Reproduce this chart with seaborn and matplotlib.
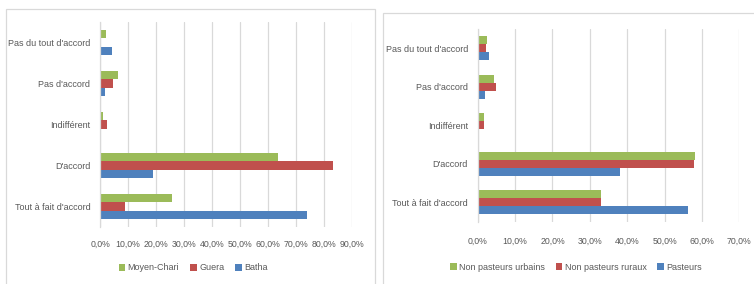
import matplotlib
matplotlib.use("Agg")
import matplotlib.pyplot as plt
import seaborn as sns
import pandas as pd
from matplotlib.patches import Patch, Rectangle
from matplotlib.ticker import FuncFormatter

categories = ["Pas du tout d'accord", "Pas d'accord", "Indifférent", "D'accord", "Tout à fait d'accord"]

left_series = ["Moyen-Chari", "Guera", "Batha"]
moyen_chari = [0.021, 0.064, 0.012, 0.635, 0.257]
guera = [0.0, 0.048, 0.025, 0.831, 0.088]
batha = [0.043, 0.017, 0.004, 0.189, 0.738]

right_series = ["Non pasteurs urbains", "Non pasteurs ruraux", "Pasteurs"]
non_past_urb = [0.024, 0.043, 0.018, 0.582, 0.329]
non_past_rur = [0.022, 0.049, 0.017, 0.579, 0.330]
pasteurs = [0.030, 0.020, 0.003, 0.380, 0.562]

left_ticks = [0.0, 0.1, 0.2, 0.3, 0.4, 0.5, 0.6, 0.7, 0.8, 0.9]
right_ticks = [0.0, 0.1, 0.2, 0.3, 0.4, 0.5, 0.6, 0.7]

colors = ["#9BBB59", "#C0504D", "#4F81BD"]
TXT = "#595959"
GRID = "#D9D9D9"

sns.set_theme(style="white")
plt.rcParams['font.family'] = ['Liberation Sans', 'DejaVu Sans']

W, H = 754, 284
fig = plt.figure(figsize=(W / 100, H / 100), dpi=100)

# frames
fig.patches.append(Rectangle((6 / W, -0.1), (374.5 - 6) / W, 1.1 - 9 / H, transform=fig.transFigure,
                             fill=False, edgecolor=GRID, lw=0.9))
fig.patches.append(Rectangle((383 / W, -0.1), 0.5, 1.1 - 13 / H, transform=fig.transFigure,
                             fill=False, edgecolor=GRID, lw=0.9))


def fmt(v, pos):
    return f"{v * 100:.1f}%".replace(".", ",")


def make(ax_rect, series, values, ticks, xmax, legend_center, legend_y, xpad):
    ax = fig.add_axes(ax_rect)
    rows = []
    for s, vals in zip(series, values):
        for c, v in zip(categories, vals):
            rows.append({"cat": c, "series": s, "val": v})
    df = pd.DataFrame(rows)
    sns.barplot(data=df, y="cat", x="val", hue="series", hue_order=series, order=categories,
                palette=colors, width=0.63, orient="h", ax=ax, legend=False, saturation=1,
                edgecolor="none")
    ax.set_xlim(0, xmax)
    ax.set_xticks(ticks)
    ax.xaxis.set_major_formatter(FuncFormatter(fmt))
    ax.grid(axis="x", color=GRID, lw=0.9)
    ax.set_axisbelow(True)
    for s in ["top", "right", "bottom"]:
        ax.spines[s].set_visible(False)
    ax.spines["left"].set_color(GRID)
    ax.spines["left"].set_linewidth(0.9)
    ax.tick_params(axis="x", length=0, labelsize=6.3, colors=TXT, pad=xpad)
    ax.tick_params(axis="y", length=0, labelsize=6.5, colors=TXT, pad=7)
    ax.set_xlabel("")
    ax.set_ylabel("")
    handles = [Patch(facecolor=c, edgecolor="none", label=s) for c, s in zip(colors, series)]
    fig.legend(handles=handles, loc="center", bbox_to_anchor=(legend_center / W, 1 - legend_y / H),
               ncol=3, frameon=False, fontsize=6.5, handlelength=0.75, handleheight=0.75,
               handletextpad=0.25, columnspacing=1.2, labelcolor=TXT)
    return ax


make([100 / W, 1 - 227 / H, 252 / W, 205 / H], left_series, [moyen_chari, guera, batha],
     left_ticks, 0.9, 193, 268, 9)
make([477.7 / W, 1 - 221.5 / H, 261.6 / W, 192.5 / H], right_series, [non_past_urb, non_past_rur, pasteurs],
     right_ticks, 0.7, 576, 267, 11)

fig.savefig("out.png", dpi=100)
